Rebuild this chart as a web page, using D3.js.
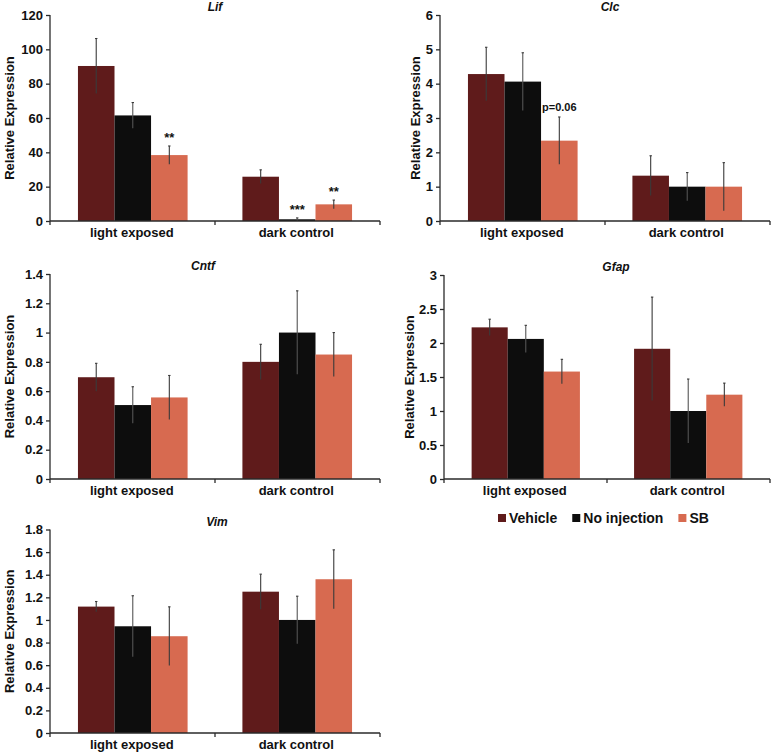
<!DOCTYPE html>
<html>
<head>
<meta charset="utf-8">
<script src="https://cdn.jsdelivr.net/npm/d3@7"></script>
<style>
  html, body { margin: 0; padding: 0; background: #fff; }
  svg { display: block; font-family: "Liberation Sans", Arial, sans-serif; }
</style>
</head>
<body>
<svg id="chart" width="776" height="755"></svg>
<script>
// ---------- data ----------
const categories = ["light exposed", "dark control"];
const seriesNames = ["Vehicle", "No injection", "SB"];
const seriesColors = ["#5f1b1b", "#0d0d0d", "#d76a50"];

// values: [category][series]
const lifValues  = [[90.3, 61.5, 38.4], [25.8, 1.0, 9.7]];
const lifErrors  = [[16, 7.5, 5.3], [4, 0.8, 2.5]];
const lifTicks   = [0, 20, 40, 60, 80, 100, 120];

const clcValues  = [[4.28, 4.06, 2.34], [1.32, 1.0, 1.0]];
const clcErrors  = [[0.78, 0.84, 0.69], [0.58, 0.41, 0.7]];
const clcTicks   = [0, 1, 2, 3, 4, 5, 6];

const cntfValues = [[0.695, 0.505, 0.557], [0.8, 1.0, 0.85]];
const cntfErrors = [[0.095, 0.125, 0.15], [0.12, 0.285, 0.15]];
const cntfTicks  = [0, 0.2, 0.4, 0.6, 0.8, 1, 1.2, 1.4];

const gfapValues = [[2.23, 2.06, 1.58], [1.915, 1.0, 1.24]];
const gfapErrors = [[0.12, 0.2, 0.18], [0.76, 0.47, 0.17]];
const gfapTicks  = [0, 0.5, 1, 1.5, 2, 2.5, 3];

const vimValues  = [[1.118, 0.944, 0.856], [1.25, 1.0, 1.36]];
const vimErrors  = [[0.045, 0.27, 0.26], [0.155, 0.21, 0.26]];
const vimTicks   = [0, 0.2, 0.4, 0.6, 0.8, 1, 1.2, 1.4, 1.6, 1.8];

const annotations = [
  { gene: "Lif", cat: 0, ser: 2, text: "**" },
  { gene: "Lif", cat: 1, ser: 1, text: "***" },
  { gene: "Lif", cat: 1, ser: 2, text: "**" },
  { gene: "Clc", cat: 0, ser: 2, text: "p=0.06" }
];

// ---------- layout ----------
const panels = [
  { gene: "Lif",  values: lifValues,  errors: lifErrors,  ticks: lifTicks,  x0: 50,  x1: 380, yTop: 15,    y0: 221, labelOff: 36,   titleX: 215 },
  { gene: "Clc",  values: clcValues,  errors: clcErrors,  ticks: clcTicks,  x0: 440, x1: 770, yTop: 15,    y0: 221, labelOff: 20.5, titleX: 610 },
  { gene: "Cntf", values: cntfValues, errors: cntfErrors, ticks: cntfTicks, x0: 50,  x1: 380, yTop: 274,   y0: 479, labelOff: 36.5, titleX: 203 },
  { gene: "Gfap", values: gfapValues, errors: gfapErrors, ticks: gfapTicks, x0: 444, x1: 770, yTop: 275,   y0: 479, labelOff: 30.5, titleX: 616 },
  { gene: "Vim",  values: vimValues,  errors: vimErrors,  ticks: vimTicks,  x0: 50,  x1: 380, yTop: 529.5, y0: 733, labelOff: 36.5, titleX: 217 }
];

const svg = d3.select("#chart");
const axisColor = "#2a2a2a";
const fmt = d => String(+d.toFixed(2));

panels.forEach(p => {
  const g = svg.append("g");
  const x = d3.scaleBand().domain(categories).range([p.x0, p.x1])
    .paddingInner(1 / 3).paddingOuter(0.17);
  const xs = d3.scaleBand().domain(seriesNames).range([0, x.bandwidth()]).padding(0);
  const y = d3.scaleLinear().domain([0, d3.max(p.ticks)]).range([p.y0, p.yTop]);

  // bars
  categories.forEach((c, ci) => {
    seriesNames.forEach((s, si) => {
      const v = p.values[ci][si];
      g.append("rect")
        .attr("x", x(c) + xs(s))
        .attr("y", y(v))
        .attr("width", xs.bandwidth())
        .attr("height", y(0) - y(v))
        .attr("fill", seriesColors[si]);
    });
  });

  // error bars
  categories.forEach((c, ci) => {
    seriesNames.forEach((s, si) => {
      const v = p.values[ci][si], e = p.errors[ci][si];
      const cx = x(c) + xs(s) + xs.bandwidth() / 2;
      const lo = Math.max(0, v - e);
      g.append("line")
        .attr("x1", cx).attr("x2", cx)
        .attr("y1", y(lo)).attr("y2", y(v + e))
        .attr("stroke", si === 1 ? "#555" : "#3a3a3a").attr("stroke-width", 1.1);
      g.append("line")
        .attr("x1", cx - 1.2).attr("x2", cx + 1.2)
        .attr("y1", y(v + e)).attr("y2", y(v + e))
        .attr("stroke", "#3a3a3a").attr("stroke-width", 1.1);
    });
  });

  // y axis
  const yAxis = g.append("g")
    .attr("transform", `translate(${p.x0},0)`)
    .call(d3.axisLeft(y).tickValues(p.ticks).tickFormat(fmt).tickSize(4).tickPadding(3));
  yAxis.select(".domain").attr("stroke", axisColor).attr("stroke-width", 1.3)
    .attr("d", `M0,${p.yTop}V${p.y0}`);
  yAxis.selectAll(".tick line").attr("stroke", axisColor).attr("stroke-width", 1.3);
  yAxis.selectAll(".tick text")
    .attr("fill", "#111").style("font-size", "13px").style("font-weight", "bold")
    .style("font-family", "'Liberation Sans', Arial, sans-serif");

  // x axis line and ticks
  g.append("line")
    .attr("x1", p.x0).attr("x2", p.x1).attr("y1", y(0)).attr("y2", y(0))
    .attr("stroke", axisColor).attr("stroke-width", 1.3);
  const boundaries = [p.x0, (x(categories[0]) + x.bandwidth() + x(categories[1])) / 2, p.x1];
  boundaries.forEach(bx => {
    g.append("line")
      .attr("x1", bx).attr("x2", bx).attr("y1", y(0)).attr("y2", y(0) + 4)
      .attr("stroke", axisColor).attr("stroke-width", 1.3);
  });

  // category labels
  categories.forEach(c => {
    g.append("text")
      .attr("x", x(c) + x.bandwidth() / 2 - 1)
      .attr("y", y(0) + 16)
      .attr("text-anchor", "middle")
      .attr("fill", "#111")
      .style("font-size", "13px").style("font-weight", "bold")
      .text(c);
  });

  // y label
  g.append("text")
    .attr("transform", `translate(${p.x0 - p.labelOff},${(p.yTop + p.y0) / 2}) rotate(-90)`)
    .attr("text-anchor", "middle")
    .attr("fill", "#111")
    .style("font-size", "13px").style("font-weight", "bold")
    .text("Relative Expression");

  // title
  g.append("text")
    .attr("x", p.titleX)
    .attr("y", p.yTop - 4)
    .attr("text-anchor", "middle")
    .attr("fill", "#111")
    .style("font-size", "12px").style("font-weight", "bold").style("font-style", "italic")
    .text(p.gene);

  // annotations
  annotations.filter(a => a.gene === p.gene).forEach(a => {
    const v = p.values[a.cat][a.ser], e = p.errors[a.cat][a.ser];
    const cx = x(categories[a.cat]) + xs(seriesNames[a.ser]) + xs.bandwidth() / 2;
    const isStar = a.text.indexOf("*") === 0;
    g.append("text")
      .attr("x", cx)
      .attr("y", y(v + e) - (isStar ? 4 : 6))
      .attr("text-anchor", "middle")
      .attr("fill", "#111")
      .style("font-size", isStar ? "13px" : "11px").style("font-weight", "bold")
      .text(a.text);
  });
});

// legend
const legend = svg.append("g").attr("transform", "translate(498,0)");
let lx = 0;
seriesNames.forEach((s, i) => {
  legend.append("rect")
    .attr("x", lx).attr("y", 514).attr("width", 8).attr("height", 8)
    .attr("fill", seriesColors[i]);
  const t = legend.append("text")
    .attr("x", lx + 11).attr("y", 523)
    .attr("fill", "#111")
    .style("font-size", "14px").style("font-weight", "bold")
    .text(s);
  lx += 11 + t.node().getComputedTextLength() + 15;
});
</script>
</body>
</html>
